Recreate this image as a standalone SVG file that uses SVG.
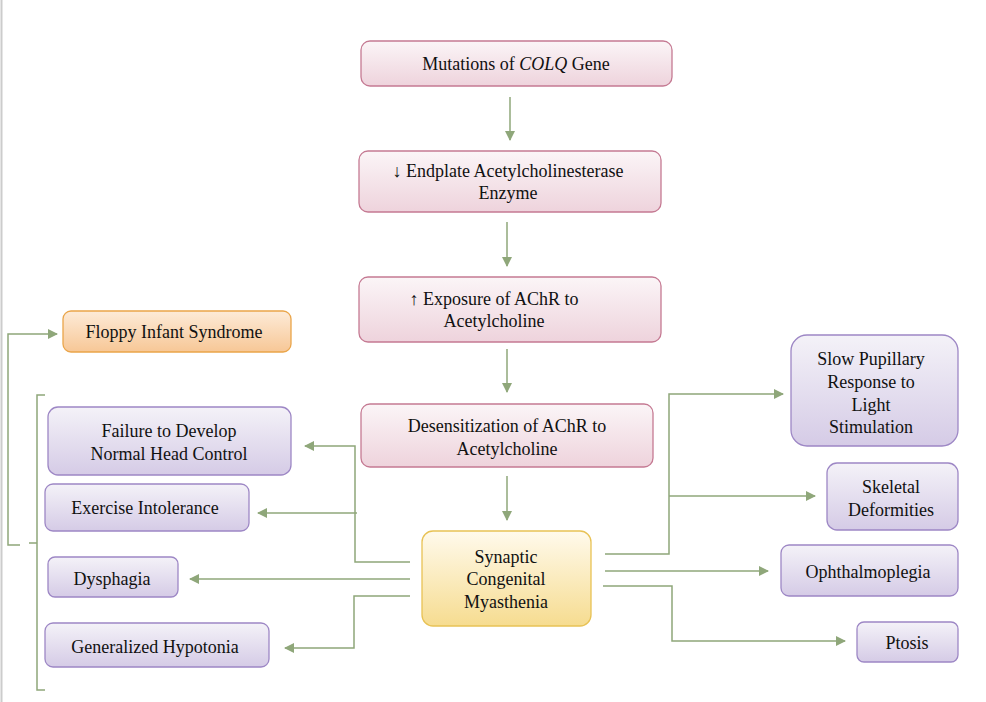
<svg xmlns="http://www.w3.org/2000/svg" width="986" height="702" viewBox="0 0 986 702">
<defs>
<linearGradient id="gp" x1="0" y1="0" x2="0" y2="1"><stop offset="0" stop-color="#fbf5f7"/><stop offset="1" stop-color="#eed3dc"/></linearGradient>
<linearGradient id="gu" x1="0" y1="0" x2="0" y2="1"><stop offset="0" stop-color="#f4f2f8"/><stop offset="1" stop-color="#d5cbe6"/></linearGradient>
<linearGradient id="go" x1="0" y1="0" x2="0" y2="1"><stop offset="0" stop-color="#fdebd8"/><stop offset="1" stop-color="#f7c796"/></linearGradient>
<linearGradient id="gy" x1="0" y1="0" x2="0" y2="1"><stop offset="0" stop-color="#fffaec"/><stop offset="1" stop-color="#f6dc90"/></linearGradient>
<marker id="ar" viewBox="0 0 10 10" refX="9" refY="5" markerWidth="10" markerHeight="10" markerUnits="userSpaceOnUse" orient="auto"><path d="M0,0 L10,5 L0,10 z" fill="#8fa77a"/></marker>
</defs>
<style>
.p{fill:url(#gp);stroke:#c57a93;stroke-width:1.3}
.u{fill:url(#gu);stroke:#9d87c5;stroke-width:1.3}
.o{fill:url(#go);stroke:#eaa54a;stroke-width:1.3}
.y{fill:url(#gy);stroke:#e8c255;stroke-width:1.3}
text{font-family:"Liberation Serif",serif;font-size:18px;fill:#111;text-anchor:middle}
.c path{fill:none;stroke:#8fa77a;stroke-width:1.5}
.c path.a{marker-end:url(#ar)}
</style>
<rect width="986" height="702" fill="#fff"/>
<line x1="1.5" y1="0" x2="1.5" y2="702" stroke="#ccc" stroke-width="2"/>
<g id="n1"><rect class="p" x="361" y="41" width="311" height="45" rx="9"/><text x="516" y="70">Mutations of <tspan font-style="italic">COLQ</tspan> Gene</text></g>
<g id="n2"><rect class="p" x="359" y="151" width="302" height="61" rx="9"/><text x="508" y="177">↓ Endplate Acetylcholinesterase</text><text x="508" y="199">Enzyme</text></g>
<g id="n3"><rect class="p" x="359" y="277" width="302" height="65" rx="9"/><text x="494" y="305">↑ Exposure of AChR to</text><text x="494" y="327">Acetylcholine</text></g>
<g id="n4"><rect class="p" x="361" y="404" width="292" height="63" rx="9"/><text x="507" y="432">Desensitization of AChR to</text><text x="507" y="455">Acetylcholine</text></g>
<g id="n5"><rect class="y" x="422" y="531" width="169" height="95" rx="11"/><text x="506" y="563">Synaptic</text><text x="506" y="585">Congenital</text><text x="506" y="608">Myasthenia</text></g>
<g id="n6"><rect class="o" x="63" y="311" width="228" height="41" rx="8"/><text x="174" y="338">Floppy Infant Syndrome</text></g>
<g id="n7"><rect class="u" x="48" y="407" width="243" height="68" rx="10"/><text x="169" y="437">Failure to Develop</text><text x="169" y="460">Normal Head Control</text></g>
<g id="n8"><rect class="u" x="45" y="484" width="204" height="47" rx="8"/><text x="145" y="514">Exercise Intolerance</text></g>
<g id="n9"><rect class="u" x="48" y="557" width="130" height="40" rx="7"/><text x="112" y="585">Dysphagia</text></g>
<g id="n10"><rect class="u" x="45" y="623" width="224" height="44" rx="8"/><text x="155" y="653">Generalized Hypotonia</text></g>
<g id="n11"><rect class="u" x="791" y="335" width="167" height="111" rx="16"/><text x="871" y="365">Slow Pupillary</text><text x="871" y="388">Response to</text><text x="871" y="411">Light</text><text x="871" y="433">Stimulation</text></g>
<g id="n12"><rect class="u" x="827" y="463" width="131" height="67" rx="10"/><text x="891" y="493">Skeletal</text><text x="891" y="516">Deformities</text></g>
<g id="n13"><rect class="u" x="781" y="545" width="177" height="51" rx="8"/><text x="868" y="578">Ophthalmoplegia</text></g>
<g id="n14"><rect class="u" x="857" y="622" width="101" height="40" rx="7"/><text x="907" y="649">Ptosis</text></g>
<g class="c" id="connectors">
<path class="a" d="M510,97 V140"/>
<path class="a" d="M507,222 V266"/>
<path class="a" d="M507,349 V392"/>
<path class="a" d="M507,476 V520"/>
<path class="a" d="M410,562 H355 V446 H305"/>
<path class="a" d="M357,513 H258"/>
<path class="a" d="M410,579 H190"/>
<path class="a" d="M410,596 H354 V648 H285"/>
<path class="a" d="M605,554 H669 V394 H783"/>
<path class="a" d="M669,496 H815"/>
<path class="a" d="M605,571 H768"/>
<path class="a" d="M603,586 H672 V641 H845"/>
<path d="M45,395 H37 V690 H45 M37,543 H29"/>
<path class="a" d="M20,545 H8 V334 H57"/>
</g>
</svg>
